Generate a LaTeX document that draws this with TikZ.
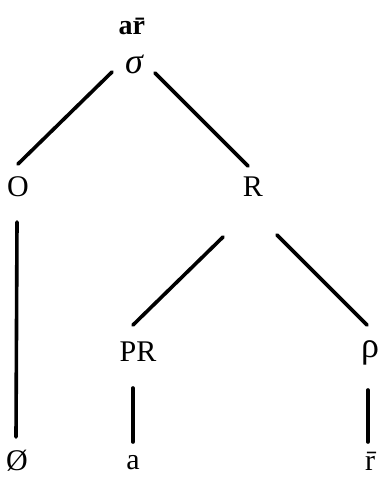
\documentclass[tikz,border=0pt]{standalone}
\usepackage{fontspec}
\setmainfont{Liberation Serif}
\tikzset{
  lbl/.style={inner sep=0pt, font=\fontsize{30}{34}\selectfont},
  greek/.style={inner sep=0pt, font=\fontsize{36}{40}\selectfont},
  branch/.style={line width=3.6pt, line cap=round}
}
\begin{document}
\begin{tikzpicture}[x=1pt, y=-1pt]
  \useasboundingbox (0,0) rectangle (379,479);
  % labels
  \node[inner sep=0pt, font=\fontsize{28}{32}\selectfont] (top) at (134,26) {\textbf{a\={r}}};
  \node[greek] (sigma) at (134,64) {\itshape σ};
  \node[lbl] (O) at (18,187) {O};
  \node[lbl] (R) at (253,187) {R};
  \node[lbl] (PR) at (138,352) {PR};
  \node[greek] (rho) at (370,353) {ρ};
  \node[lbl] (null) at (17,461) {\O};
  \node[lbl] (a) at (133,463) {a};
  \node[lbl] (rbar) at (370,461) {\={r}};

  % branches
  \draw[branch] ([shift={(-22,8)}]sigma.center) -- ([shift={(0,-23)}]O.center);
  \draw[branch] ([shift={(21,9)}]sigma.center) -- ([shift={(-5,-21)}]R.center);
  \draw[branch] ([shift={(-1,35)}]O.center) -- ([shift={(-1,-24)}]null.center);
  \draw[branch] ([shift={(-30,50)}]R.center) -- ([shift={(-5,-27)}]PR.center);
  \draw[branch] ([shift={(24,48)}]R.center) -- ([shift={(-3,-28)}]rho.center);
  \draw[branch] ([shift={(-2,37)}]rho.center) -- ([shift={(-2,-19)}]rbar.center);
  \draw[branch] ([shift={(-5,36)}]PR.center) -- ([shift={(0,-21)}]a.center);
\end{tikzpicture}
\end{document}
